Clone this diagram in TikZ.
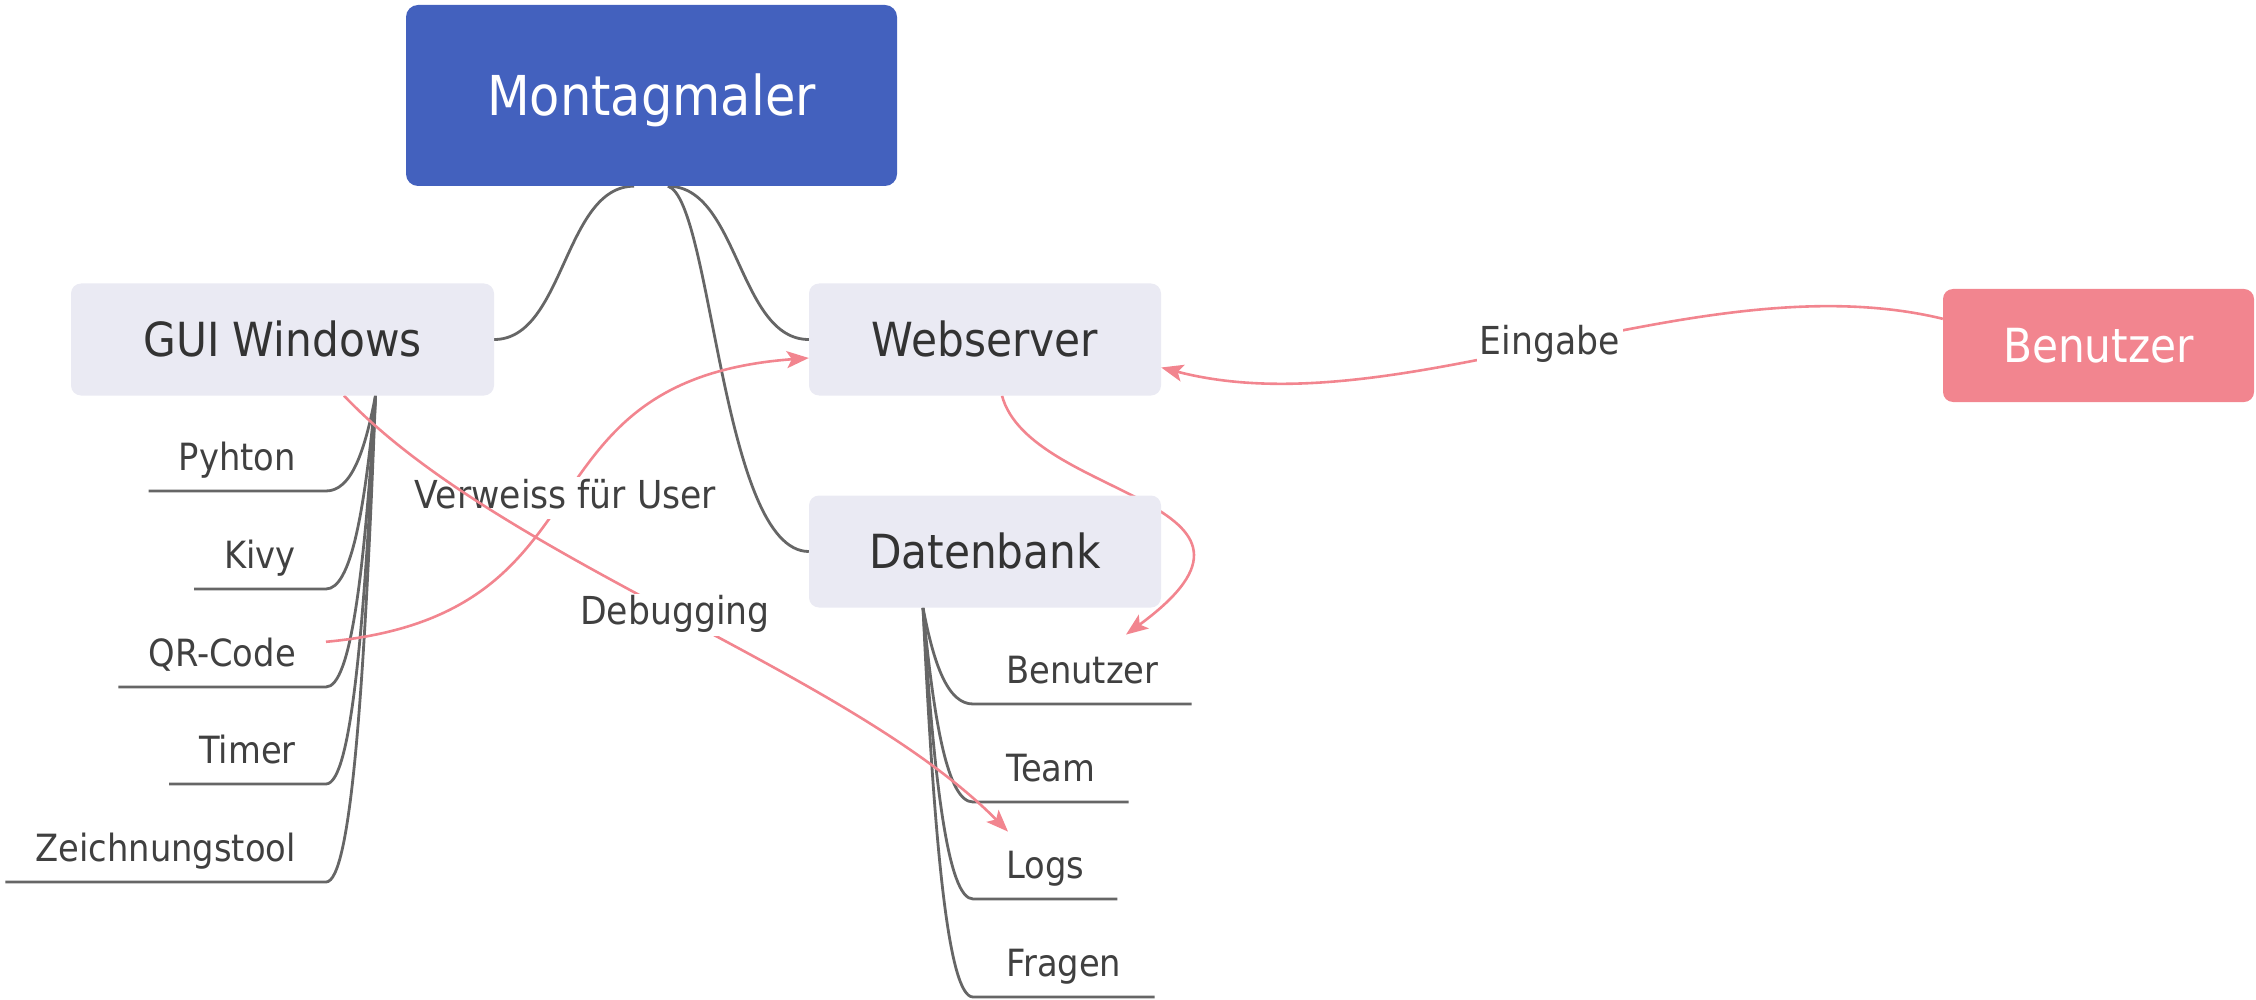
\documentclass[tikz,border=0pt]{standalone}
\usepackage{fontspec}
\setmainfont{DejaVu Sans}[FakeStretch=0.9]
\usetikzlibrary{arrows.meta,calc}
\definecolor{mmblue}{HTML}{4361BE}
\definecolor{lvlfill}{HTML}{EAEAF3}
\definecolor{redbox}{HTML}{F2858F}
\definecolor{redline}{HTML}{F2858F}
\definecolor{graylink}{HTML}{666666}
\definecolor{txtdark}{HTML}{333333}
\definecolor{txtleaf}{HTML}{404040}
\pgfdeclarelayer{bg}
\pgfsetlayers{bg,main}
\tikzset{
  rootbox/.style={fill=mmblue, rounded corners=12pt, minimum width=491pt, minimum height=181pt,
    text=white, font=\fontsize{55pt}{60pt}\selectfont, text height=40pt, text depth=0pt, inner sep=0pt},
  topicbox/.style={fill=lvlfill, rounded corners=10pt, minimum width=352pt, minimum height=112pt,
    text=txtdark, font=\fontsize{47pt}{52pt}\selectfont, text height=34pt, text depth=0pt, inner sep=0pt},
  userbox/.style={topicbox, fill=redbox, text=white, minimum width=311pt, minimum height=113pt},
  leaf/.style={text=txtleaf, font=\fontsize{37.5pt}{42pt}\selectfont, text height=28pt, text depth=8pt,
    inner ysep=12pt, inner xsep=30pt},
  rleaf/.style={leaf, anchor=south west, inner xsep=33pt},
  lleaf/.style={leaf, anchor=south east},
  rlabel/.style={fill=white, text=txtleaf, font=\fontsize{38.5pt}{42pt}\selectfont, text height=28pt,
    text depth=8pt, inner sep=3pt},
  glink/.style={draw=graylink, line width=2.8pt},
  rlink/.style={draw=redline, line width=2.6pt, -{Stealth[length=22pt,width=17pt,inset=5pt]}},
}
\begin{document}
\begin{tikzpicture}[x=1pt,y=-1pt]
\useasboundingbox (0,0) rectangle (2256,1000);
% main nodes
\node[rootbox] (mm) at (651.5,95.5) {Montagmaler};
\node[topicbox, minimum width=423pt] (gui) at (282.5,339.5) {GUI Windows};
\node[topicbox] (web) at (985,339.5) {Webserver};
\node[topicbox] (db) at (985,551.5) {Datenbank};
\node[userbox] (usr) at (2098.5,345.5) {Benutzer};
% GUI leaves
\node[lleaf] (py) at (326,491) {Pyhton};
\node[lleaf] (kv) at (326,589) {Kivy};
\node[lleaf] (qr) at (326,687) {QR-Code};
\node[lleaf] (tm) at (326,784) {Timer};
\node[lleaf] (zt) at (326,882) {Zeichnungstool};
% Datenbank leaves
\node[rleaf] (dben) at (973,704) {Benutzer};
\node[rleaf] (team) at (973,802) {Team};
\node[rleaf] (logs) at (973,899) {Logs};
\node[rleaf] (frag) at (973,997) {Fragen};
\coordinate (gtop) at ($(gui.south)+(93,0)$);
\coordinate (dtop) at ($(db.south)+(-62,0)$);
\begin{pgfonlayer}{bg}
% main connectors
\draw[glink] ($(mm.south)+(-17.5,0)$) .. controls +(-70,0) and +(70,0) .. (gui.east);
\draw[glink] ($(mm.south)+(16.5,0)$) .. controls +(70.5,0) and +(-70.5,0) .. (web.west);
\draw[glink] ($(mm.south)+(16.5,0)$) .. controls +(44,14) and +(-87,0) .. (db.west);
% GUI leaves
\foreach \n in {py,kv,qr,tm,zt}{
  \draw[glink] (gtop) .. controls ($(gtop)!0.6!(gtop |- \n.south)+(-11,0)$) and ($(\n.south east)+(25,0)$)
    .. (\n.south east) -- (\n.south west);
}
% Datenbank leaves
\foreach \n in {dben,team,logs,frag}{
  \draw[glink] (dtop) .. controls ($(dtop)!0.6!(dtop |- \n.south)+(11,0)$) and ($(\n.south west)+(-25,0)$)
    .. (\n.south west) -- (\n.south east);
}
% red relations
\draw[rlink] ($(qr.east)+(0,-15)$) .. controls +(295,-27) and +(-300,22) ..
  node[rlabel, pos=0.5] (lverw) {Verweiss für User} ($(web.west)+(0,18.5)$);
\draw[rlink] ($(usr.north west)+(0,30)$) .. controls +(-243,-59) and +(237,62) ..
  node[rlabel, pos=0.5] (leing) {Eingabe} ($(web.east)+(0,28)$);
\draw[rlink] ($(web.south)+(17,0)$) .. controls +(28,104) and +(184,-135) .. ($(dben.north west)+(153,-9)$);
\draw[rlink] ($(gui.south)+(61.5,0)$) .. controls +(156,164) and +(-159,-161) ..
  node[rlabel, pos=0.5] (ldebug) {Debugging} ($(logs.north west)+(35,-7)$);
\end{pgfonlayer}
\end{tikzpicture}
\end{document}
